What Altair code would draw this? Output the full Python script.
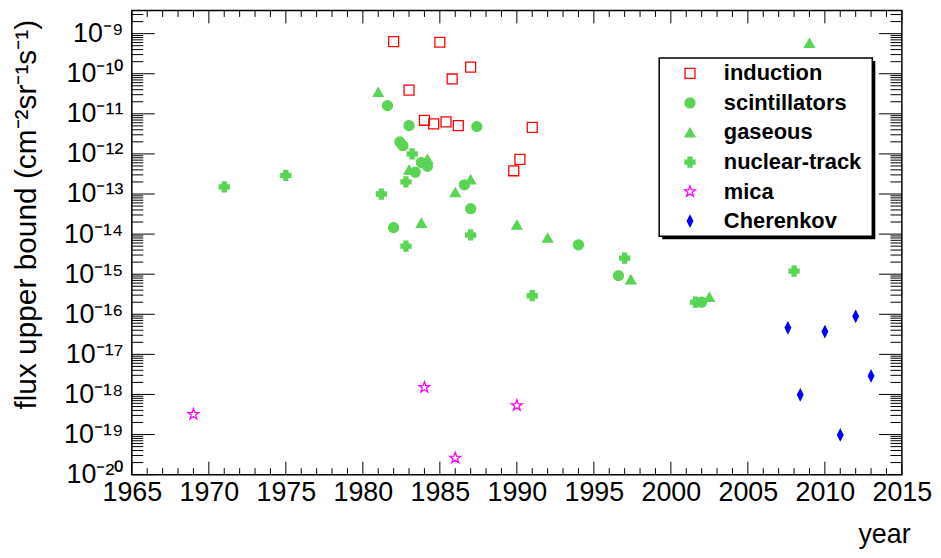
import math
import altair as alt
import pandas as pd

FONT = "Liberation Sans"

categories = ["induction", "scintillators", "gaseous", "nuclear-track", "mica", "Cherenkov"]

induction_year = [1982.0, 1985.0, 1987.0, 1985.8, 1983.0, 1984.0, 1984.6, 1985.4, 1986.2, 1991.0, 1990.2, 1989.8]
induction_flux = [6.3e-10, 6.1e-10, 1.46e-10, 7.4e-11, 3.9e-11, 6.9e-12, 5.6e-12, 6.3e-12, 5.1e-12, 4.6e-12, 7.3e-13, 3.8e-13]

scint_year = [1981.6, 1983.0, 1987.4, 1982.4, 1982.6, 1983.8, 1984.2, 1983.4, 1986.6, 1987.0, 1982.0, 1994.0, 1996.6, 2002.0]
scint_flux = [1.6e-11, 5.1e-12, 4.8e-12, 2.0e-12, 1.6e-12, 6.1e-13, 4.9e-13, 3.5e-13, 1.7e-13, 4.3e-14, 1.45e-14, 5.4e-15, 9.2e-16, 2.0e-16]

gas_year = [1981.0, 1984.2, 1983.0, 1987.0, 1986.0, 1983.8, 1990.0, 1992.0, 1997.4, 2002.5, 2009.0]
gas_flux = [3.5e-11, 7.4e-13, 4.0e-13, 2.3e-13, 1.1e-13, 1.9e-14, 1.7e-14, 8.1e-15, 7.4e-16, 2.7e-16, 5.8e-10]

track_year = [1971.0, 1975.0, 1981.2, 1983.2, 1982.8, 1987.0, 1982.8, 1997.0, 1991.0, 2001.6, 2008.0]
track_flux = [1.5e-13, 2.9e-13, 1.0e-13, 1.0e-12, 2.0e-13, 9.5e-15, 5.0e-15, 2.5e-15, 2.9e-16, 2.0e-16, 1.2e-15]

mica_year = [1969.0, 1984.0, 1990.0, 1986.0]
mica_flux = [3.2e-19, 1.5e-18, 5.3e-19, 2.6e-20]

cherenkov_year = [2007.6, 2010.0, 2012.0, 2013.0, 2008.4, 2011.0]
cherenkov_flux = [4.6e-17, 3.7e-17, 8.9e-17, 2.9e-18, 9.8e-19, 9.8e-20]

x_ticks_major = list(range(1965, 2016, 5))
x_ticks_minor = [v for v in range(1965, 2016) if v % 5 != 0]
y_decades = list(range(-20, -8))

series = [
    ("induction", induction_year, induction_flux),
    ("scintillators", scint_year, scint_flux),
    ("gaseous", gas_year, gas_flux),
    ("nuclear-track", track_year, track_flux),
    ("mica", mica_year, mica_flux),
    ("Cherenkov", cherenkov_year, cherenkov_flux),
]
rows = []
for cat, ys, fs in series:
    for yv, fv in zip(ys, fs):
        rows.append({"year": yv, "flux": fv, "detector": cat})
df = pd.DataFrame(rows)

# symbol shapes
pts = []
for i in range(10):
    a = math.radians(-90 + 36 * i)
    r = 1.15 if i % 2 == 0 else 0.46
    pts.append(f"{r * math.cos(a):.3f},{r * math.sin(a):.3f}")
star_path = "M" + "L".join(pts) + "Z"
diamond_path = "M0,-1.1L0.55,0L0,1.1L-0.55,0Z"

green = "#59d454"
shapes = ["square", "circle", "triangle-up", "cross", star_path, diamond_path]
strokes = ["#ff0000", green, green, green, "#ff00ff", "#0000ff"]
fills = ["transparent", green, green, green, "transparent", "#0000ff"]

W, H = 774.2, 466.7
y_top = 3.79e-9
x_scale = alt.Scale(domain=[1965, 2015], nice=False, zero=False)
y_scale = alt.Scale(type="log", domain=[1e-20, y_top], nice=False)

sup = str.maketrans("-0123456789", "⁻⁰¹²³⁴⁵⁶⁷⁸⁹")
parts = []
for e in y_decades:
    parts.append(f"datum.value < {1.5 * 10 ** e:.3g} ? '10{str(e).translate(sup)}'")
label_expr = " : ".join(parts) + " : ''"

y_major_vals = [10.0 ** e for e in y_decades]
y_minor_vals = [k * 10.0 ** e for e in y_decades for k in range(2, 10) if k * 10.0 ** e < y_top]

x_axis = alt.Axis(
    orient="bottom", values=x_ticks_major, ticks=False, tickSize=0, offset=0,
    domain=False, grid=False,
    labelFontSize=27, labelFont=FONT, labelColor="black", labelPadding=5,
    labelFlush=False, labelOverlap=False, format="d",
    title="year", titleFont=FONT, titleFontSize=27, titleFontWeight="normal",
    titleColor="black", titleAlign="right", titleBaseline="alphabetic",
    titleX=782.5, titleY=68)

y_axis = alt.Axis(
    orient="left", values=y_major_vals, ticks=False, tickSize=0, offset=0,
    domain=False, grid=False,
    labelExpr=label_expr, labelFontSize=27, labelFont=FONT, labelColor="black",
    labelPadding=9, labelOverlap=False, labelFlush=False,
    title="flux upper bound (cm⁻²sr⁻¹s⁻¹)", titleFont=FONT, titleFontSize=30,
    titleFontWeight="normal", titleColor="black", titleAngle=270,
    titleAlign="right", titleBaseline="alphabetic", titleX=-96.5, titleY=9)

leg = alt.Legend(title=None)

points = alt.Chart(df).mark_point(opacity=1, size=100, strokeWidth=1.3).encode(
    x=alt.X("year:Q", scale=x_scale, axis=x_axis),
    y=alt.Y("flux:Q", scale=y_scale, axis=y_axis),
    shape=alt.Shape("detector:N", scale=alt.Scale(domain=categories, range=shapes), legend=leg),
    stroke=alt.Stroke("detector:N", scale=alt.Scale(domain=categories, range=strokes), legend=leg),
    fill=alt.Fill("detector:N", scale=alt.Scale(domain=categories, range=fills), legend=leg),
)

# inward-pointing ROOT-style ticks on all four sides, positioned through the scales
xmaj_df = pd.DataFrame({"year": x_ticks_major})
xmin_df = pd.DataFrame({"year": x_ticks_minor})
ymaj_df = pd.DataFrame({"flux": y_major_vals})
ymin_df = pd.DataFrame({"flux": y_minor_vals})


def xticks(data, y0, y1):
    return alt.Chart(data).mark_rule(color="black", strokeWidth=1).encode(
        x=alt.X("year:Q", scale=x_scale, axis=None), y=alt.value(y0), y2=alt.value(y1))


def yticks(data, x0, x1):
    return alt.Chart(data).mark_rule(color="black", strokeWidth=1).encode(
        y=alt.Y("flux:Q", scale=y_scale, axis=None), x=alt.value(x0), x2=alt.value(x1))


tick_layers = [
    xticks(xmaj_df, H, H - 13), xticks(xmin_df, H, H - 6.5),
    xticks(xmaj_df, 0, 13), xticks(xmin_df, 0, 6.5),
    yticks(ymaj_df, 0, 23), yticks(ymin_df, 0, 11.5),
    yticks(ymaj_df, W, W - 23), yticks(ymin_df, W, W - 11.5),
]

box_df = pd.DataFrame({"k": [0]})
bx0, by0, bx1, by1 = 530.2, 47.7, 744.5, 227.0
shadow = alt.Chart(box_df).mark_rect(color="black").encode(
    x=alt.value(bx0 + 3), x2=alt.value(bx1 + 3), y=alt.value(by0 + 3), y2=alt.value(by1 + 3))
box = alt.Chart(box_df).mark_rect(fill="white", stroke="black", strokeWidth=1.5).encode(
    x=alt.value(bx0), x2=alt.value(bx1), y=alt.value(by0), y2=alt.value(by1))

chart = alt.layer(*tick_layers, shadow, box, points).resolve_axis(
    x="independent", y="independent"
).properties(
    width=W, height=H,
    autosize=alt.AutoSizeParams(type="none"),
    padding={"left": 124.5, "top": 1, "right": 31.3, "bottom": 73.3},
    background="white",
).configure_view(
    stroke="black", strokeWidth=1.5
).configure_legend(
    orient="none", legendX=bx0, legendY=52.3, padding=0,
    symbolOffset=20, labelOffset=23, rowPadding=7.7,
    labelFontSize=22, labelFont=FONT, labelFontWeight="bold", labelColor="black",
    symbolSize=100, symbolStrokeWidth=1.3, labelLimit=400,
)

chart.save("out.html", embed_options={"renderer": "svg", "actions": False})
